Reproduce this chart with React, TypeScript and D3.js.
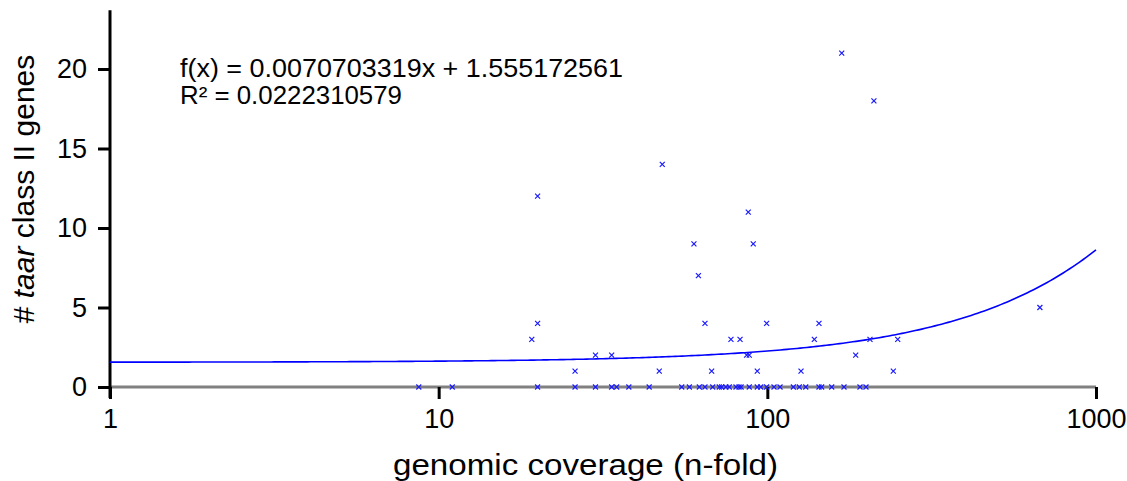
import React, { useEffect, useRef } from 'react';
import * as d3 from 'd3';

// coverage (n-fold) and number of taar class II genes
const zeroCoverage = [8.7, 11, 20, 26, 30, 33.6, 34.8, 37.9, 43.7, 54.9, 57.9, 62.1, 64.6, 68.2, 71.4, 72.6, 74.8, 76.6, 80.3, 82, 83.2, 88.1, 93.2, 95.5, 99.5, 104.8, 109.3, 120, 125.1, 130.9, 143.6, 146.3, 157, 171.1, 191.4, 199.6];
const oneCoverage = [26, 46.9, 67.7, 93.2, 126.6, 241.7];
const twoCoverage = [30, 33.6, 86.5, 88.1, 185.7];
const threeCoverage = [19.2, 77.5, 82.6, 139, 205.3, 249.3];
const fourCoverage = [20, 64.6, 99.5, 143.6];
const otherCoverage = [675, 61.7, 59.8, 90.6, 87.5, 20, 47.9, 211, 168.4];
const otherGenes = [5, 7, 9, 9, 11, 12, 14, 18, 21];

const yTicks = [0, 5, 10, 15, 20];
const xTicks = [1, 10, 100, 1000];

// linear trend line from the chart's own label
const slope = 0.0070703319;
const intercept = 1.555172561;
const equation = 'f(x) = 0.0070703319x + 1.555172561';
const rSquared = 'R² = 0.0222310579';

const points = [
  ...zeroCoverage.map(x => ({ x, y: 0 })),
  ...oneCoverage.map(x => ({ x, y: 1 })),
  ...twoCoverage.map(x => ({ x, y: 2 })),
  ...threeCoverage.map(x => ({ x, y: 3 })),
  ...fourCoverage.map(x => ({ x, y: 4 })),
  ...otherCoverage.map((x, i) => ({ x, y: otherGenes[i] })),
];

const font = '"Liberation Sans", Arial, sans-serif';

export default function App() {
  const ref = useRef<SVGSVGElement>(null);

  useEffect(() => {
    const width = 1127, height = 481;
    const svg = d3.select(ref.current).attr('width', width).attr('height', height);
    svg.selectAll('*').remove();

    const x = d3.scaleLog().domain([1, 1000]).range([110, 1096]);
    const y = d3.scaleLinear().domain([0, 20]).range([387, 69]);

    // zero line (x axis)
    svg.append('line')
      .attr('x1', x(1)).attr('x2', x(1000))
      .attr('y1', y(0)).attr('y2', y(0))
      .attr('stroke', '#808080').attr('stroke-width', 3);

    // x ticks and labels
    const xg = svg.append('g').attr('transform', `translate(0,${y(0)})`)
      .call(d3.axisBottom(x).tickValues(xTicks).tickFormat(d3.format('d')).tickSize(12).tickPadding(10));
    xg.select('.domain').remove();
    xg.selectAll('line').attr('stroke', '#000').attr('stroke-width', 3);
    xg.selectAll('text').attr('font-size', 27).attr('font-family', font).attr('fill', '#000');

    // y axis
    const yg = svg.append('g').attr('transform', `translate(${x(1)},0)`)
      .call(d3.axisLeft(y).tickValues(yTicks).tickSize(12).tickPadding(11));
    yg.select('.domain').remove();
    yg.selectAll('line').attr('stroke', '#000').attr('stroke-width', 3);
    yg.selectAll('text').attr('font-size', 27).attr('font-family', font).attr('fill', '#000');
    svg.append('line')
      .attr('x1', x(1)).attr('x2', x(1))
      .attr('y1', y(23.7)).attr('y2', y(0) + 11)
      .attr('stroke', '#000').attr('stroke-width', 3);

    // trend line
    const samples = d3.range(0, 301).map(i => Math.pow(10, i / 100));
    const line = d3.line<number>().x(d => x(d)).y(d => y(slope * d + intercept));
    svg.append('path').datum(samples)
      .attr('d', line)
      .attr('fill', 'none').attr('stroke', '#0000ff').attr('stroke-width', 1.6);

    // markers
    const s = 2.5;
    svg.append('g').selectAll('path').data(points).join('path')
      .attr('d', d => {
        const px = x(d.x), py = y(d.y);
        return `M${px - s},${py - s}L${px + s},${py + s}M${px - s},${py + s}L${px + s},${py - s}`;
      })
      .attr('stroke', '#1a1aff').attr('stroke-width', 1.2).attr('fill', 'none');

    // equation
    svg.append('text').attr('x', 180).attr('y', 77)
      .attr('font-size', 25.5).attr('font-family', font)
      .attr('textLength', 443).attr('lengthAdjust', 'spacingAndGlyphs')
      .text(equation);
    svg.append('text').attr('x', 180).attr('y', 104)
      .attr('font-size', 25.5).attr('font-family', font)
      .attr('textLength', 222).attr('lengthAdjust', 'spacingAndGlyphs')
      .text(rSquared);

    // axis titles
    svg.append('text').attr('x', 393).attr('y', 475)
      .attr('font-size', 30).attr('font-family', font)
      .attr('textLength', 385).attr('lengthAdjust', 'spacingAndGlyphs')
      .text('genomic coverage (n-fold)');

    const yt = svg.append('text')
      .attr('transform', 'translate(34,189) rotate(-90)')
      .attr('text-anchor', 'middle')
      .attr('font-size', 30).attr('font-family', font);
    yt.append('tspan').text('# ');
    yt.append('tspan').attr('font-style', 'italic').text('taar');
    yt.append('tspan').text(' class II genes');
  }, []);

  return (
    <svg ref={ref} style={{ position: 'absolute', left: 0, top: 0, display: 'block', background: '#fff' }} />
  );
}
